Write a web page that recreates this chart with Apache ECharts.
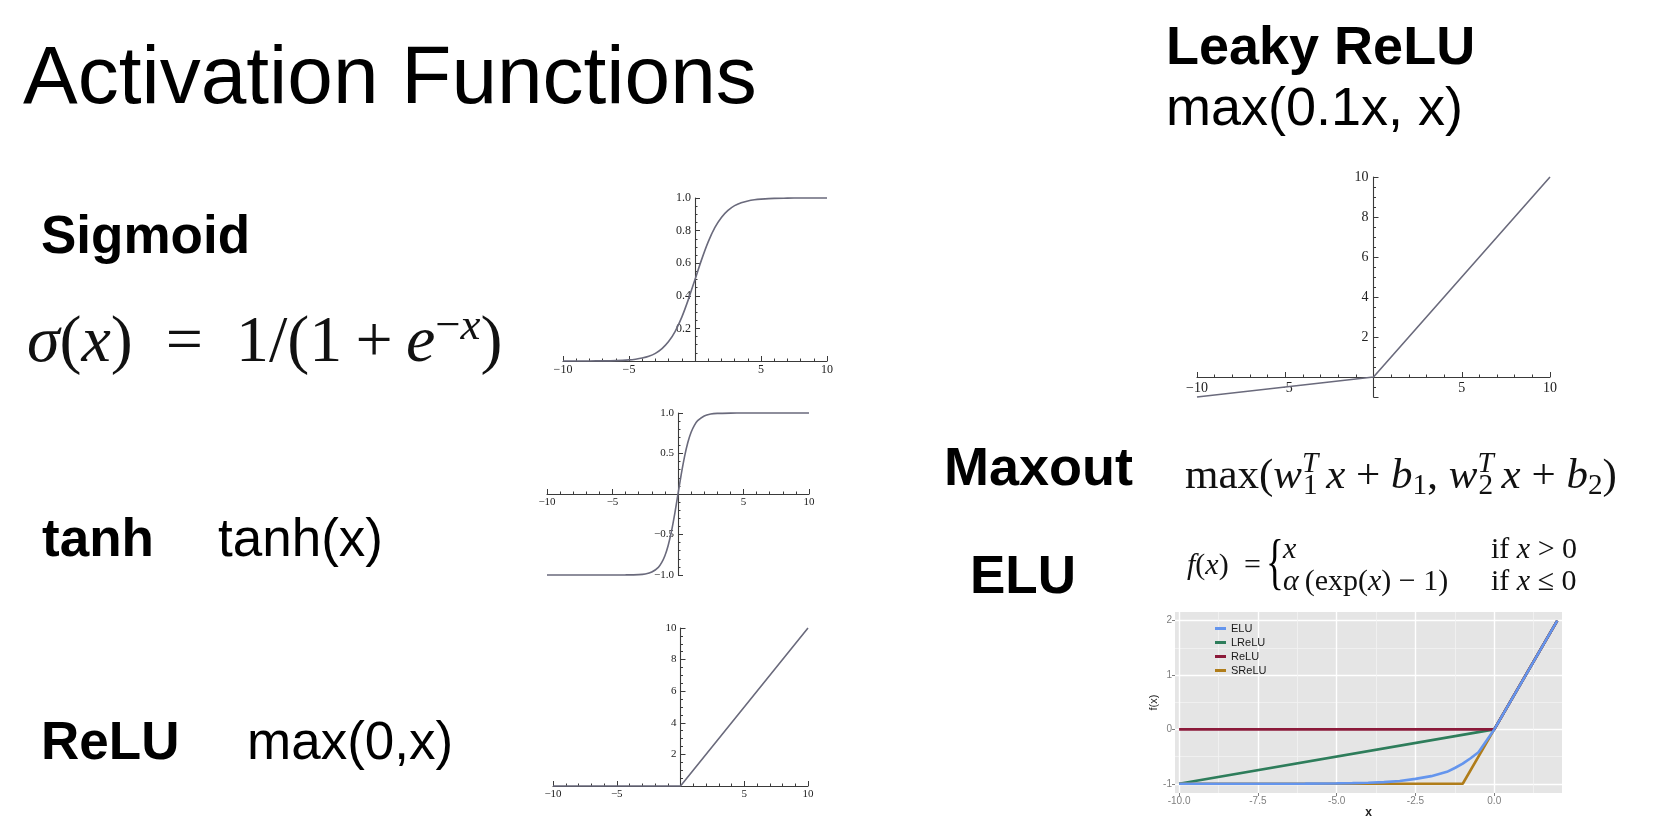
<!DOCTYPE html>
<html><head><meta charset="utf-8">
<script src="https://cdn.jsdelivr.net/npm/echarts@6/dist/echarts.min.js"></script>
<style>html,body{margin:0;padding:0;background:#fff;}#c{width:1667px;height:820px;}</style>
</head><body><div id="c"></div>
<script>
// ---------- data ----------
const sigmoidX = [-10,-9,-8,-7,-6,-5,-4.5,-4,-3.5,-3,-2.5,-2,-1.5,-1,-0.5,0,0.5,1,1.5,2,2.5,3,3.5,4,4.5,5,6,7,8,9,10];
const sigmoidY = [0.0000,0.0001,0.0003,0.0009,0.0025,0.0067,0.011,0.018,0.029,0.047,0.076,0.119,0.182,0.269,0.378,0.5,0.622,0.731,0.818,0.881,0.924,0.953,0.971,0.982,0.989,0.993,0.998,0.999,1.0,1.0,1.0];
const tanhX = [-10,-5,-4,-3,-2.5,-2,-1.5,-1.25,-1,-0.75,-0.5,-0.25,0,0.25,0.5,0.75,1,1.25,1.5,2,2.5,3,4,5,10];
const tanhY = [-1,-0.9999,-0.999,-0.995,-0.987,-0.964,-0.905,-0.848,-0.762,-0.635,-0.462,-0.245,0,0.245,0.462,0.635,0.762,0.848,0.905,0.964,0.987,0.995,0.999,0.9999,1];
const reluX = [-10,0,10];
const reluY = [0,0,10];
const leakyX = [-10,0,10];
const leakyY = [-1,0,10];
// ELU comparison chart
const eluNames = ['ELU','LReLU','ReLU','SReLU'];
const eluX = [-10,-9,-8,-7,-6,-5,-4.5,-4,-3.5,-3,-2.5,-2,-1.5,-1.25,-1,-0.75,-0.5,0,1,2];
const eluY = [-1.0,-1.0,-1.0,-0.999,-0.998,-0.993,-0.989,-0.982,-0.97,-0.95,-0.91,-0.86,-0.78,-0.71,-0.63,-0.53,-0.42,0,1,2];
const lreluX = [-10,0,2];
const lreluY = [-1,0,2];
const relu2X = [-10,0,2];
const relu2Y = [0,0,2];
const sreluX = [-10,-1,0,2];
const sreluY = [-1,-1,0,2];
// axis ranges and tick labels
const mathXRange = [-10, 10];
const sigYRange = [0, 1];
const tanhYRange = [-1, 1];
const reluYRange = [0, 10];
const leakyYRange = [-1, 10];
const eluXRange = [-10.13, 2.15];
const eluYRange = [-1.17, 2.16];
const eluXTicks = [-10,-7.5,-5,-2.5,0];
const eluXMinor = [-8.75,-6.25,-3.75,-1.25,1.25];
const eluYTicks = [-1,0,1,2];
const eluYMinor = [-0.5,0.5,1.5];

// ---------- helpers ----------
const AX = '#3a3a3a';
const CURVE = '#6a6a7c';
const pairs = (xs, ys) => xs.map((x, i) => [x, ys[i]]);
const fmtInt = v => (Math.abs(v) < 1e-9 ? '' : (v < 0 ? '\u2212' + Math.abs(v) : String(v)));
const fmtDec = v => (Math.abs(v) < 1e-9 ? '' : (v < 0 ? '\u2212' + Math.abs(v).toFixed(1) : v.toFixed(1)));
const fmtPos = v => (v <= 1e-9 ? '' : String(Math.round(v)));

const grids = [
  { left: 563, top: 198, width: 264, height: 163 },
  { left: 547, top: 413, width: 262, height: 162 },
  { left: 553, top: 628, width: 255, height: 158 },
  { left: 1197, top: 177, width: 353, height: 220 },
  { left: 1175, top: 612, width: 387, height: 181, show: true, backgroundColor: '#e5e5e5', borderWidth: 0 }
];
// offset (in px) that moves an edge axis onto the zero of the other axis
const zeroOff = (range, size) => -((0 - range[0]) / (range[1] - range[0])) * size;

function mAxis(gridIndex, range, interval, minorSplit, fontSize, margin, fmt, offset) {
  const a = {
    type: 'value', gridIndex, min: range[0], max: range[1], offset,
    axisLine: { show: true, onZero: false, lineStyle: { color: AX, width: 1.1 } },
    axisTick: { show: true, inside: true, length: 5, lineStyle: { color: AX, width: 1 } },
    minorTick: { show: true, splitNumber: minorSplit, length: 2.5, lineStyle: { color: AX, width: 1 } },
    splitLine: { show: false }, minorSplitLine: { show: false },
    axisLabel: { show: true, margin, fontFamily: 'Liberation Serif', fontSize, color: '#222',
      formatter: fmt, showMinLabel: true, showMaxLabel: true }
  };
  if (interval != null) a.interval = interval;
  return a;
}
function mSeries(i, xs, ys, smooth) {
  return { type: 'line', xAxisIndex: i, yAxisIndex: i, data: pairs(xs, ys), showSymbol: false,
    smooth: smooth ? 0.25 : false, clip: false, silent: true,
    lineStyle: { color: CURVE, width: 1.6 } };
}
function eSeries(name, xs, ys, color) {
  return { name, type: 'line', xAxisIndex: 4, yAxisIndex: 4, data: pairs(xs, ys), showSymbol: false,
    silent: true, clip: false, color, lineStyle: { color, width: 2.6 } };
}
function txt(x, y, text, font, extra) {
  return Object.assign({ type: 'text', x, y, silent: true,
    style: { text, font, fill: '#000', align: 'left', verticalAlign: 'middle',
      textAlign: 'left', textVerticalAlign: 'middle' } }, extra || {});
}
function rtxt(x, y, text, rich, extra) {
  return Object.assign({ type: 'text', x, y, silent: true,
    style: { text, rich, fill: '#111', align: 'left', verticalAlign: 'middle',
      textAlign: 'left', textVerticalAlign: 'middle' } }, extra || {});
}
function mathRich(S, supRaise) {
  const serif = 'Liberation Serif';
  const up = supRaise == null ? 0.55 : supRaise;
  return {
    i: { fontFamily: serif, fontStyle: 'italic', fontSize: S, fill: '#111', color: '#111' },
    r: { fontFamily: serif, fontSize: S, fill: '#111', color: '#111' },
    sr: { fontFamily: serif, fontSize: S * 0.68, fill: '#111', color: '#111', padding: [0, 0, S * up, 0] },
    si: { fontFamily: serif, fontStyle: 'italic', fontSize: S * 0.68, fill: '#111', color: '#111', padding: [0, 0, S * up, 0] },
    sup: { fontFamily: serif, fontStyle: 'italic', fontSize: S * 0.68, fill: '#111', color: '#111', padding: [0, 0, S * up, 0], width: 1 },
    sub: { fontFamily: serif, fontSize: S * 0.68, fill: '#111', color: '#111', padding: [S * 0.45, 0, 0, 0] }
  };
}

const SANS = '"Liberation Sans"';
const S1 = 66, M1 = 43, E1 = 30;
const graphics = [
  txt(23, 80, 'Activation Functions', '82px ' + SANS),
  txt(41, 238, 'Sigmoid', 'bold 53px ' + SANS),
  txt(42, 541, 'tanh', 'bold 53px ' + SANS),
  txt(218, 541, 'tanh(x)', '53px ' + SANS),
  txt(41, 744, 'ReLU', 'bold 53px ' + SANS),
  txt(247, 744, 'max(0,x)', '53px ' + SANS),
  txt(1166, 49, 'Leaky ReLU', 'bold 54px ' + SANS),
  txt(1166, 110, 'max(0.1x, x)', '54px ' + SANS),
  txt(944, 470, 'Maxout', 'bold 54px ' + SANS),
  txt(970, 578, 'ELU', 'bold 53px ' + SANS),
  // sigmoid formula
  rtxt(27, 344, '{i|σ}{r|(}{i|x}{r|)\u2002=\u20021/(1\u2009+\u2009}{i|e}{sr|\u2212}{si|x}{r|)}', mathRich(S1, 0.5)),
  // maxout formula
  rtxt(1185, 477, '{r|max(}{i|w}{sup|T}{sub|1}{i|\u2009x}{r| + }{i|b}{sub|1}{r|, }{i|w}{sup|T}{sub|2}{i|\u2009x}{r| + }{i|b}{sub|2}{r|)}', mathRich(M1, 0.6)),
  // ELU formula
  rtxt(1187, 566, '{i|f}{r|(}{i|x}{r|)}', mathRich(E1)),
  rtxt(1244, 566, '{r|=}', mathRich(E1)),
  txt(1266, 566, '{', '62px "Liberation Serif"', { scaleX: 0.6 }),
  rtxt(1283, 550, '{i|x}', mathRich(E1)),
  rtxt(1491, 550, '{r|if }{i|x}{r| > 0}', mathRich(E1)),
  rtxt(1283, 582, '{i|α}{r|\u2009(exp(}{i|x}{r|) \u2212 1)}', mathRich(E1)),
  rtxt(1491, 582, '{r|if }{i|x}{r| \u2264 0}', mathRich(E1))
];

const eluGridLine = { show: true, lineStyle: { color: '#ffffff', width: 1.4 } };
const eluMinorLine = { show: true, lineStyle: { color: '#f3f3f3', width: 0.8 } };
const eluLab = { fontFamily: SANS, fontSize: 10, color: '#7f7f7f', margin: 3 };

const option = {
  animation: false,
  backgroundColor: '#ffffff',
  grid: grids,
  xAxis: [
    mAxis(0, mathXRange, 5, 5, 12, 3, fmtInt, zeroOff(sigYRange, grids[0].height)),
    mAxis(1, mathXRange, 5, 5, 11, 3, fmtInt, zeroOff(tanhYRange, grids[1].height)),
    mAxis(2, mathXRange, 5, 5, 11, 3, fmtInt, zeroOff(reluYRange, grids[2].height)),
    mAxis(3, mathXRange, 5, 5, 14, 4, fmtInt, zeroOff(leakyYRange, grids[3].height)),
    { type: 'value', gridIndex: 4, min: eluXRange[0], max: eluXRange[1], position: 'bottom',
      axisLine: { show: false, onZero: false },
      axisTick: { show: true, length: 3, customValues: eluXTicks, lineStyle: { color: '#7f7f7f' } },
      axisLabel: Object.assign({ customValues: eluXTicks, formatter: v => v.toFixed(1) }, eluLab),
      splitLine: eluGridLine,
      name: 'x', nameLocation: 'middle', nameGap: 12,
      nameTextStyle: { fontFamily: SANS, fontSize: 12, fontWeight: 'bold', color: '#222' } },
    { type: 'value', gridIndex: 4, min: eluXRange[0], max: eluXRange[1], position: 'top',
      axisLine: { show: false, onZero: false },
      axisTick: { show: false, customValues: eluXMinor },
      axisLabel: { show: false },
      splitLine: eluMinorLine }
  ],
  yAxis: [
    mAxis(0, sigYRange, 0.2, 4, 12, 4, fmtDec, zeroOff(mathXRange, grids[0].width)),
    mAxis(1, tanhYRange, 0.5, 5, 11, 4, fmtDec, zeroOff(mathXRange, grids[1].width)),
    mAxis(2, reluYRange, 2, 4, 11, 4, fmtPos, zeroOff(mathXRange, grids[2].width)),
    mAxis(3, leakyYRange, null, 4, 14, 5, fmtPos, zeroOff(mathXRange, grids[3].width)),
    { type: 'value', gridIndex: 4, min: eluYRange[0], max: eluYRange[1], position: 'left',
      axisLine: { show: false, onZero: false },
      axisTick: { show: true, length: 3, customValues: eluYTicks, lineStyle: { color: '#7f7f7f' } },
      axisLabel: Object.assign({ customValues: eluYTicks, formatter: v => String(Math.round(v)) }, eluLab),
      splitLine: eluGridLine,
      name: 'f(x)', nameLocation: 'middle', nameGap: 16, nameRotate: 90,
      nameTextStyle: { fontFamily: SANS, fontSize: 11, color: '#222' } },
    { type: 'value', gridIndex: 4, min: eluYRange[0], max: eluYRange[1], position: 'right',
      axisLine: { show: false, onZero: false },
      axisTick: { show: false, customValues: eluYMinor },
      axisLabel: { show: false },
      splitLine: eluMinorLine }
  ],
  legend: {
    data: eluNames, orient: 'vertical', left: 1215, top: 623, icon: 'rect',
    itemWidth: 11, itemHeight: 3, itemGap: 3, padding: 0,
    textStyle: { fontFamily: SANS, fontSize: 11, color: '#1a1a1a' }
  },
  series: [
    mSeries(0, sigmoidX, sigmoidY, true),
    mSeries(1, tanhX, tanhY, true),
    mSeries(2, reluX, reluY, false),
    mSeries(3, leakyX, leakyY, false),
    eSeries('LReLU', lreluX, lreluY, '#2e7d5b'),
    eSeries('SReLU', sreluX, sreluY, '#b07d1a'),
    eSeries('ReLU', relu2X, relu2Y, '#8b1a3a'),
    eSeries('ELU', eluX, eluY, '#6495ed')
  ],
  graphic: graphics
};

const chart = echarts.init(document.getElementById('c'));
chart.setOption(option);
</script>
</body></html>
